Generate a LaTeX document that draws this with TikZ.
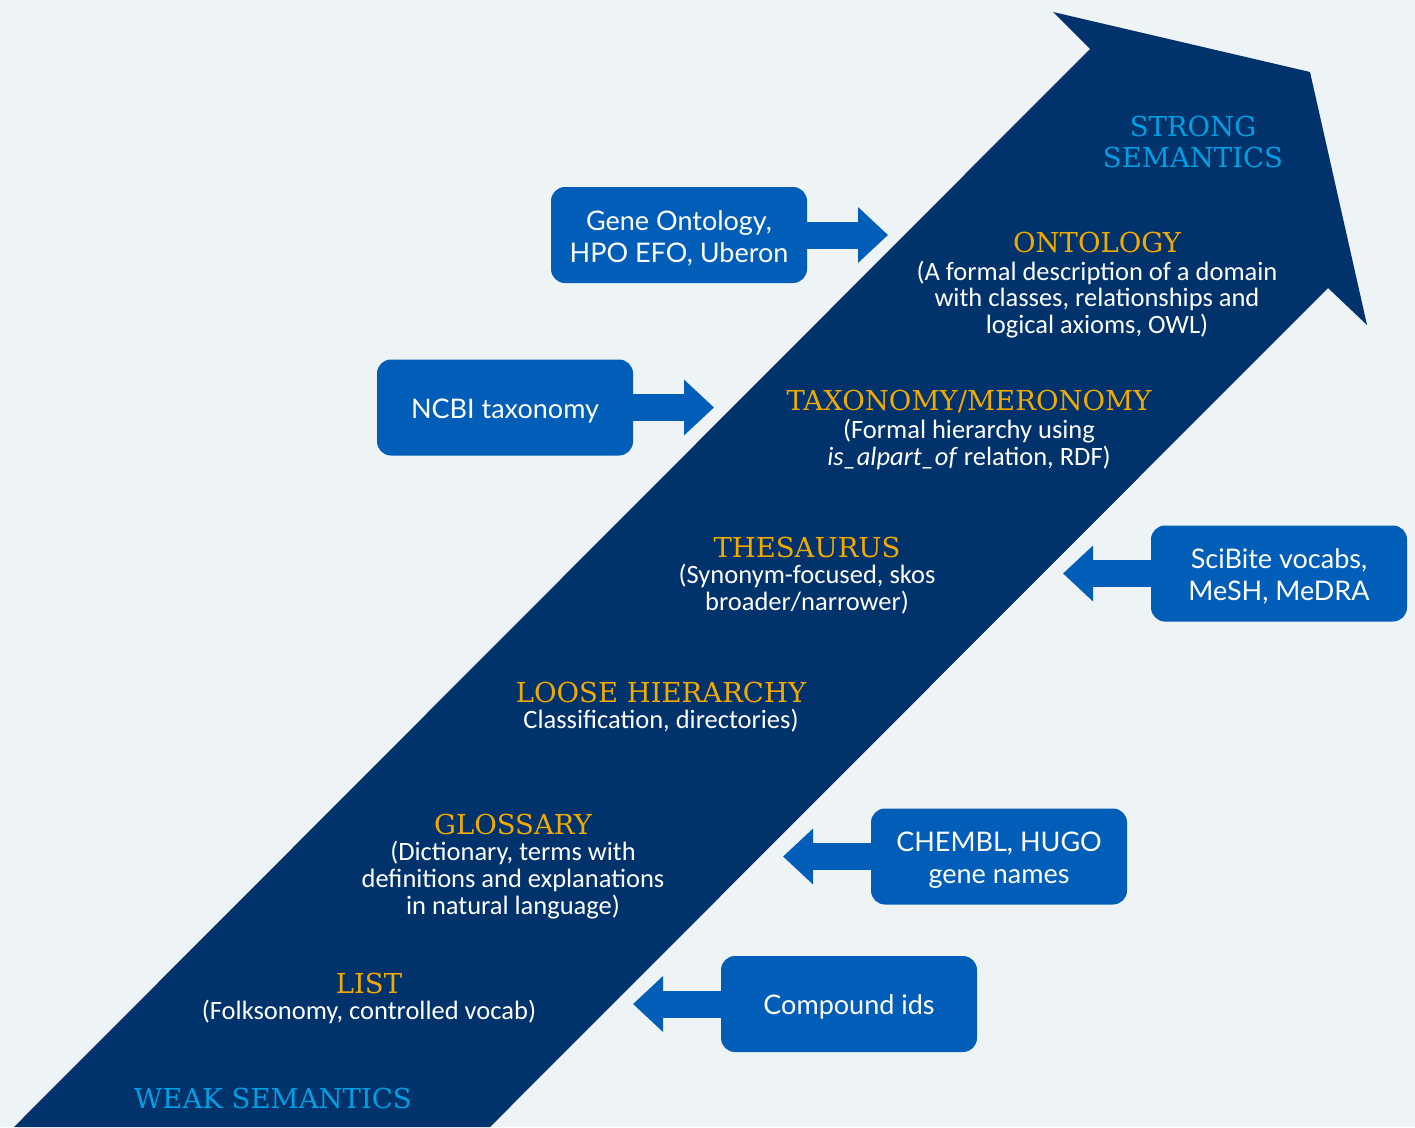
\documentclass[tikz,border=0pt]{standalone}
\usepackage{fontspec}
\setmainfont{Carlito}
\newfontfamily\headfont{DejaVu Serif}
\newfontfamily\boxfont{Lato}
\usetikzlibrary{arrows.meta}
\definecolor{bg}{HTML}{EEF3F6}
\definecolor{navy}{HTML}{00326B}
\definecolor{boxblue}{HTML}{005EB8}
\definecolor{headorange}{HTML}{F2A900}
\definecolor{lightblue}{HTML}{009FE3}
\newcommand{\boxstrut}{\rule{0pt}{26pt}}
\tikzset{
  srcbox/.style={fill=boxblue, rounded corners=14pt, minimum width=256pt, minimum height=96pt,
    text=white, align=center, font=\boxfont\fontsize{27}{32}\selectfont, inner sep=0pt},
  blockarrow/.style={draw=boxblue, line width=27pt, -{Triangle[width=54pt,length=30pt]}},
  headtext/.style={text=headorange, font=\headfont\fontsize{27.5}{31}\selectfont, inner sep=0pt},
  semtext/.style={text=lightblue, font=\headfont\fontsize{27.5}{31}\selectfont, align=center, inner sep=0pt},
  desctext/.style={text=white, font=\fontsize{26.5}{26.7}\selectfont, align=center, inner sep=0pt}
}
\begin{document}
\begin{tikzpicture}[x=1pt,y=-1pt]
\useasboundingbox (0,0) rectangle (1415,1127);
\fill[bg] (0,0) rectangle (1415,1127);
\begin{scope}
\clip (0,0) rectangle (1415,1127);
\fill[navy] (14,1127) -- (1090,49) -- (1053,12) -- (1310,72) -- (1367,325) -- (1328,288) -- (490,1127) -- cycle;
\end{scope}

% texts on the big arrow
\node[semtext] (strong) at (1193,142) {STRONG\\SEMANTICS};
\node[headtext] (onto) at (1097,242) {ONTOLOGY};
\node[desctext] (ontod) at (1097,299.5) {(A formal description of a domain\\with classes, relationships and\\logical axioms, OWL)};
\node[headtext] (taxo) at (969,402) {TAXONOMY/MERONOMY};
\node[desctext] (taxod) at (969,444.5) {(Formal hierarchy using\\\textit{is\_alpart\_of} relation, RDF)};
\node[headtext] (thes) at (807,547) {THESAURUS};
\node[desctext] (thesd) at (807,589) {(Synonym-focused, skos\\broader/narrower)};
\node[headtext] (loose) at (661,692) {LOOSE HIERARCHY};
\node[desctext] (loosed) at (661,721) {Classification, directories)};
\node[headtext] (gloss) at (513,824) {GLOSSARY};
\node[desctext] (glossd) at (513,880) {(Dictionary, terms with\\definitions and explanations\\in natural language)};
\node[headtext] (list) at (369,983) {LIST};
\node[desctext] (listd) at (369,1012) {(Folksonomy, controlled vocab)};
\node[semtext] (weak) at (273,1098) {WEAK SEMANTICS};

% source boxes
\node[srcbox] (go) at (679,235) {\boxstrut Gene Ontology,\\HPO EFO, Uberon};
\node[srcbox] (ncbi) at (505,407.5) {\boxstrut NCBI taxonomy};
\node[srcbox] (scibite) at (1279,573.5) {\boxstrut SciBite vocabs,\\MeSH, MeDRA};
\node[srcbox] (chembl) at (999,856.5) {\boxstrut CHEMBL, HUGO\\gene names};
\node[srcbox] (compound) at (849,1004) {\boxstrut Compound ids};

\coordinate (goTip) at (888,235);
\coordinate (ncbiTip) at (714,407.5);
\coordinate (sciTip) at (1063,573.5);
\coordinate (chemTip) at (783,856.5);
\coordinate (compTip) at (633,1004);

\draw[blockarrow] ([xshift=-2pt]go.east) -- (goTip);
\draw[blockarrow] ([xshift=-2pt]ncbi.east) -- (ncbiTip);
\draw[blockarrow] ([xshift=2pt]scibite.west) -- (sciTip);
\draw[blockarrow] ([xshift=2pt]chembl.west) -- (chemTip);
\draw[blockarrow] ([xshift=2pt]compound.west) -- (compTip);
\end{tikzpicture}
\end{document}
